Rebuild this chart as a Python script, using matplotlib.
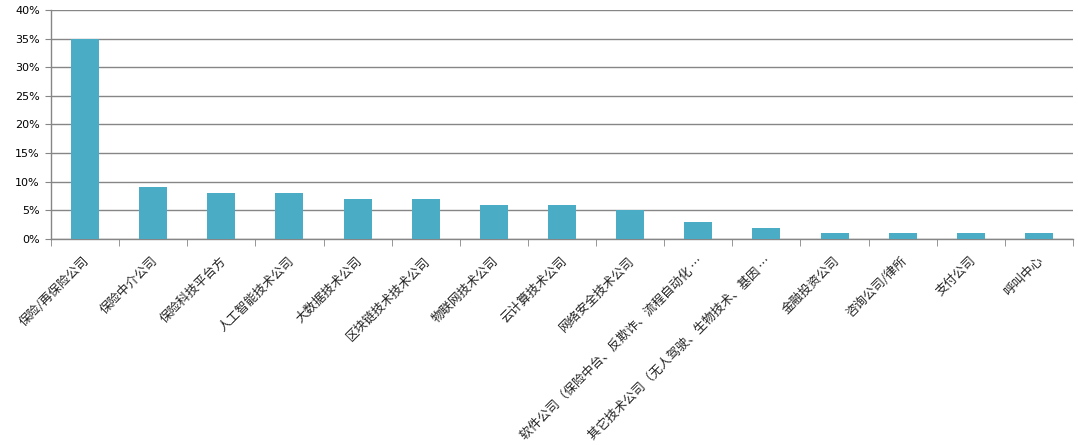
import matplotlib
matplotlib.use("Agg")
import matplotlib.pyplot as plt
import matplotlib.transforms as mtransforms
import numpy as np
from matplotlib.ticker import FixedLocator, PercentFormatter

categories = [
    "保险/再保险公司", "保险中介公司", "保险科技平台方", "人工智能技术公司",
    "大数据技术公司", "区块链技术技术公司", "物联网技术公司", "云计算技术公司",
    "网络安全技术公司", "软件公司（保险中台、反欺诈、流程自动化 …",
    "其它技术公司（无人驾驶、生物技术、基因 …", "金融投资公司", "咨询公司/律所",
    "支付公司", "呼叫中心",
]
values = [35, 9, 8, 8, 7, 7, 6, 6, 5, 3, 2, 1, 1, 1, 1]
yticks = [0, 5, 10, 15, 20, 25, 30, 35, 40]

fig = plt.figure(figsize=(10.78, 4.45), dpi=100)
ax = fig.add_axes([51/1078, 1-239/445, (1073-51)/1078, (239-10)/445])

x = np.arange(len(categories))
ax.bar(x, values, width=0.41, color="#4BACC6", zorder=3)

ax.set_xlim(-0.5, len(categories)-0.5)
ax.set_ylim(0, 40)
ax.set_yticks(yticks)
ax.yaxis.set_major_formatter(PercentFormatter(decimals=0))
ax.grid(axis="y", color="#868686", linewidth=1, zorder=0)
ax.set_axisbelow(True)

for s in ["top", "right"]:
    ax.spines[s].set_visible(False)
for s in ["left", "bottom"]:
    ax.spines[s].set_color("#868686")
    ax.spines[s].set_linewidth(1)

ax.tick_params(axis="y", direction="out", length=4, color="#868686",
               labelsize=8, pad=4)
for lab in ax.get_yticklabels():
    lab.set_family(["DejaVu Sans"])

ax.set_xticks(x)
ax.set_xticklabels(categories, rotation=45, ha="right", va="top",
                   rotation_mode="anchor", fontsize=9,
                   family=["Noto Sans CJK SC", "DejaVu Sans"], color="#222222")
ax.tick_params(axis="x", which="major", length=0, pad=11)
shift = mtransforms.ScaledTranslation(-2/100, 0, fig.dpi_scale_trans)
for lab in ax.get_xticklabels():
    lab.set_transform(lab.get_transform() + shift)
ax.xaxis.set_minor_locator(FixedLocator(np.arange(-0.5, len(categories), 1)))
ax.tick_params(axis="x", which="minor", direction="out", length=5, color="#868686")

fig.savefig("out.png", dpi=100)
